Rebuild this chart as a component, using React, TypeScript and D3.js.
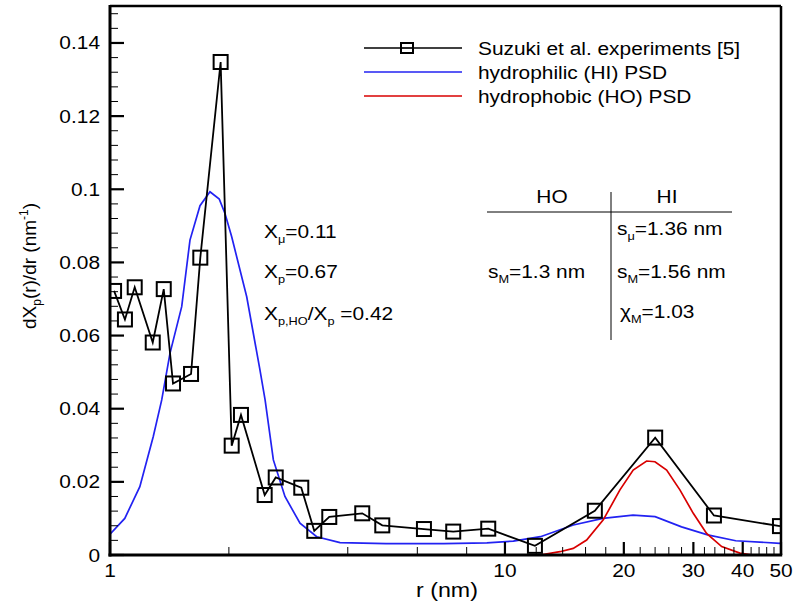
import React from "react";
import * as d3 from "d3";

const W = 794;
const H = 606;

// Suzuki et al. experiments [5]
const expR = [1.024, 1.091, 1.155, 1.283, 1.368, 1.444, 1.604, 1.693, 1.906, 2.033, 2.146, 2.464, 2.628, 3.05, 3.29, 3.591, 4.352, 4.891, 6.236, 7.397, 9.072, 11.91, 16.89, 24.01, 33.82, 49.7];
const expV = [0.0722, 0.0644, 0.0732, 0.0581, 0.0727, 0.0469, 0.0495, 0.0813, 0.1348, 0.0299, 0.0383, 0.0164, 0.0212, 0.0184, 0.0066, 0.0104, 0.0114, 0.0081, 0.0071, 0.0064, 0.0072, 0.0025, 0.0121, 0.0321, 0.0108, 0.0079];

// hydrophilic (HI) PSD
const hiR = [1.0, 1.09, 1.19, 1.287, 1.352, 1.419, 1.519, 1.594, 1.69, 1.791, 1.891, 1.955, 2.033, 2.219, 2.397, 2.47, 2.592, 2.773, 3.027, 3.337, 3.823, 5.0, 7.0, 9.0, 10.5, 12.3, 14.9, 17.7, 21.1, 24.0, 28.0, 32.6, 38.4, 49.7];
const hiV = [0.0057, 0.01, 0.0187, 0.0324, 0.0424, 0.0552, 0.0679, 0.0861, 0.0955, 0.0993, 0.0973, 0.0934, 0.087, 0.0706, 0.0506, 0.0424, 0.026, 0.016, 0.0087, 0.005, 0.0034, 0.0031, 0.0031, 0.0033, 0.0038, 0.005, 0.0082, 0.01, 0.0109, 0.0105, 0.0077, 0.0055, 0.0039, 0.0032];

// hydrophobic (HO) PSD
const hoR = [12.26, 13.78, 14.89, 16.1, 17.74, 19.55, 21.12, 22.84, 23.98, 25.67, 27.73, 29.98, 32.4, 35.38, 39.35, 42.45];
const hoV = [0, 0.0009, 0.0018, 0.0041, 0.0096, 0.0178, 0.0232, 0.0257, 0.0255, 0.0232, 0.0178, 0.0114, 0.0059, 0.0023, 0.0005, 0];

const xMajor = [1, 10, 20, 30, 40, 50];
const xMinor = [2, 4, 6, 8, 12, 14, 16, 18, 22, 24, 26, 28, 32, 34, 36, 38, 42, 44, 46, 48];
const yMajor = [0, 0.02, 0.04, 0.06, 0.08, 0.1, 0.12, 0.14];
const yMajorLabels = ["0", "0.02", "0.04", "0.06", "0.08", "0.1", "0.12", "0.14"];
const yMinorStep = 0.004;

const legendLabels = ["Suzuki et al. experiments [5]", "hydrophilic (HI) PSD", "hydrophobic (HO) PSD"];

const FONT = "'Liberation Sans', Arial, sans-serif";
const SX = 1.16;

function T({ x, y, anchor = "start", size = 18, children }: any) {
  return (
    <text
      transform={`translate(${x},${y}) scale(${SX},1)`}
      textAnchor={anchor}
      fontSize={size}
      fontFamily={FONT}
      fill="#000"
    >
      {children}
    </text>
  );
}

// parts: [text, isSub]
function Rich({ x, y, parts }: { x: number; y: number; parts: [string, boolean][] }) {
  const d = 5;
  let prevSub = false;
  return (
    <T x={x} y={y}>
      {parts.map(([t, sub], i) => {
        let dy = 0;
        if (sub && !prevSub) dy = d;
        if (!sub && prevSub) dy = -d;
        prevSub = sub;
        return (
          <tspan key={i} dy={dy} fontSize={sub ? 11 : 18}>
            {t}
          </tspan>
        );
      })}
    </T>
  );
}

export default function App() {
  const x = d3.scaleLog().domain([1, 50]).range([110, 781]);
  const y = d3.scaleLinear().domain([0, 0.15]).range([555, 6.4]);
  const L = 110, R = 781, Tp = 6, B = 555;

  const yMinor = d3.range(yMinorStep, 0.1501, yMinorStep).filter(
    (v) => Math.abs(v / 0.02 - Math.round(v / 0.02)) > 1e-6
  );

  const mk = (rs: number[], vs: number[]) =>
    d3.line<number>()
      .x((_, i) => x(rs[i]))
      .y((v) => y(v))(vs) as string;

  const hiPath = mk(hiR, hiV);
  const hoPath = mk(hoR, hoV);
  const expPath = mk(expR, expV);

  const legendY = [48, 72, 96];
  const legendColors = ["#000", "#2222f2", "#d80000"];

  return (
    <svg width={W} height={H} style={{ position: "absolute", left: 0, top: 0, background: "#fff" }}>
      <rect x={0} y={0} width={W} height={H} fill="#fff" />
      <defs>
        <clipPath id="plot">
          <rect x={L} y={Tp} width={R - L} height={B - Tp} />
        </clipPath>
      </defs>

      {/* curves */}
      <g clipPath="url(#plot)">
        <path d={hiPath} fill="none" stroke="#2222f2" strokeWidth={1.7} />
        <path d={hoPath} fill="none" stroke="#d80000" strokeWidth={1.7} />
        <path d={expPath} fill="none" stroke="#000" strokeWidth={1.8} />
        {expV.map((v, i) => (
          <rect key={i} x={x(expR[i]) - 7} y={y(v) - 7} width={14} height={14} fill="none" stroke="#000" strokeWidth={2} />
        ))}
      </g>

      {/* y ticks */}
      {yMajor.map((v) => (
        <line key={"ym" + v} x1={L} x2={L + 14} y1={y(v)} y2={y(v)} stroke="#000" strokeWidth={2.2} />
      ))}
      {yMinor.map((v) => (
        <line key={"yn" + v} x1={L} x2={L + 8} y1={y(v)} y2={y(v)} stroke="#000" strokeWidth={1} />
      ))}
      {yMajor.map((v, i) => (
        <T key={"yl" + v} x={100} y={y(v) + 6.5} anchor="end">{yMajorLabels[i]}</T>
      ))}

      {/* x ticks */}
      {xMajor.map((v) => (
        <line key={"xm" + v} x1={x(v)} x2={x(v)} y1={B} y2={B - 13} stroke="#000" strokeWidth={2.2} />
      ))}
      {xMinor.map((v) => (
        <line key={"xn" + v} x1={x(v)} x2={x(v)} y1={B} y2={B - 8} stroke="#000" strokeWidth={1} />
      ))}
      {xMajor.map((v) => (
        <T key={"xl" + v} x={x(v)} y={577} anchor="middle">{String(v)}</T>
      ))}

      {/* frame */}
      <line x1={L} x2={R} y1={Tp} y2={Tp} stroke="#000" strokeWidth={2.5} />
      <line x1={R} x2={R} y1={Tp} y2={B} stroke="#000" strokeWidth={2.5} />
      <line x1={L} x2={L} y1={Tp - 1} y2={B + 1.5} stroke="#000" strokeWidth={3} />
      <line x1={L - 1.5} x2={R + 1.2} y1={B} y2={B} stroke="#000" strokeWidth={3} />

      {/* axis titles */}
      <T x={447} y={597} anchor="middle" size={20}>r (nm)</T>
      <text
        transform="translate(36,266) rotate(-90)"
        textAnchor="middle"
        fontSize={19}
        fontFamily={FONT}
      >
        <tspan>dX</tspan>
        <tspan fontSize={12} dy={5}>p</tspan>
        <tspan dy={-5}>(r)/dr (nm</tspan>
        <tspan fontSize={12} dy={-8}>-1</tspan>
        <tspan dy={8}>)</tspan>
      </text>

      {/* legend */}
      {legendLabels.map((lab, i) => (
        <g key={lab}>
          <line x1={364} x2={462} y1={legendY[i]} y2={legendY[i]} stroke={legendColors[i]} strokeWidth={1.7} />
          {i === 0 && (
            <rect x={401} y={legendY[i] - 5} width={12} height={10} fill="#fff" stroke="#000" strokeWidth={2} />
          )}
          {i === 0 && <line x1={401} x2={413} y1={legendY[i]} y2={legendY[i]} stroke="#000" strokeWidth={1.7} />}
          <T x={478} y={legendY[i] + 6.5}>{lab}</T>
        </g>
      ))}

      {/* annotations */}
      <Rich x={264} y={238} parts={[["X", false], ["μ", true], ["=0.11", false]]} />
      <Rich x={264} y={278} parts={[["X", false], ["p", true], ["=0.67", false]]} />
      <Rich x={264} y={320} parts={[["X", false], ["p,HO", true], ["/X", false], ["p", true], [" =0.42", false]]} />

      {/* table */}
      <T x={552} y={203} anchor="middle">HO</T>
      <T x={667} y={203} anchor="middle">HI</T>
      <line x1={487} x2={732} y1={212} y2={212} stroke="#000" strokeWidth={1} />
      <line x1={611} x2={611} y1={192} y2={340} stroke="#000" strokeWidth={1} />
      <Rich x={617} y={235} parts={[["s", false], ["μ", true], ["=1.36 nm", false]]} />
      <Rich x={488} y={278} parts={[["s", false], ["M", true], ["=1.3 nm", false]]} />
      <Rich x={617} y={278} parts={[["s", false], ["M", true], ["=1.56 nm", false]]} />
      <Rich x={620} y={318} parts={[["χ", false], ["M", true], ["=1.03", false]]} />
    </svg>
  );
}
